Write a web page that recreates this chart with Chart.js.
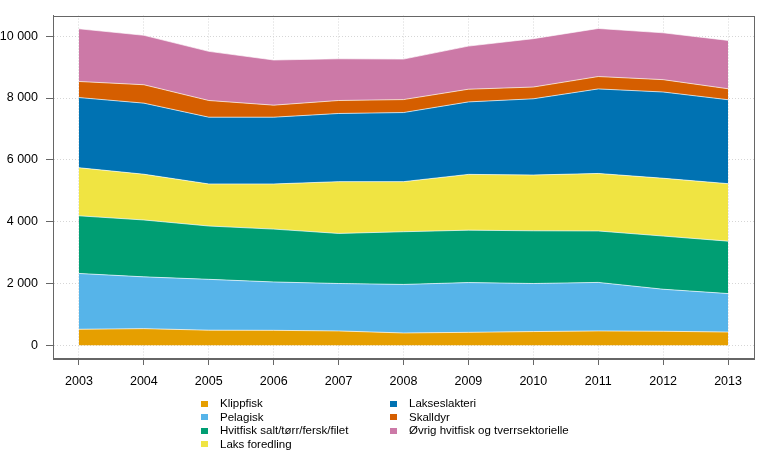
<!DOCTYPE html>
<html>
<head>
<meta charset="utf-8">
<script src="https://cdn.jsdelivr.net/npm/chart.js@4/dist/chart.umd.min.js"></script>
<style>
  html, body { margin: 0; padding: 0; background: #fff; }
  #wrap { position: relative; width: 762px; height: 457px; }
  #c { position: absolute; left: 0; top: 0; }
  #legend {
    position: absolute; left: 200px; top: 397px;
    display: grid; grid-template-columns: 189px 240px;
    grid-template-rows: repeat(4, 13.5px); grid-auto-flow: column;
    font-family: 'Liberation Sans', Arial, sans-serif; font-size: 11.5px; color: #000;
  }
  .item { display: flex; align-items: center; white-space: nowrap; line-height: 13.5px; }
  .sw { width: 7px; height: 6px; margin-right: 12px; margin-left: 1px; flex: none; }
</style>
</head>
<body>
<div id="wrap">
  <canvas id="c" width="762" height="457"></canvas>
  <div id="legend"></div>
</div>
<script>
// ---- data ----
const years = [2003, 2004, 2005, 2006, 2007, 2008, 2009, 2010, 2011, 2012, 2013];
const seriesNames = ["Klippfisk", "Pelagisk", "Hvitfisk salt/tørr/fersk/filet", "Laks foredling",
                     "Lakseslakteri", "Skalldyr", "Øvrig hvitfisk og tverrsektorielle"];
const klippfisk     = [520, 540, 490, 485, 465, 400, 420, 445, 465, 455, 430];
const pelagisk      = [1805, 1675, 1645, 1565, 1535, 1570, 1610, 1555, 1570, 1360, 1245];
const hvitfisk      = [1865, 1840, 1725, 1710, 1620, 1705, 1695, 1705, 1665, 1720, 1695];
const laksForedling = [1555, 1480, 1360, 1460, 1675, 1620, 1805, 1805, 1860, 1870, 1860];
const lakseslakteri = [2270, 2300, 2160, 2160, 2205, 2235, 2345, 2465, 2735, 2790, 2715];
const skalldyr      = [520, 595, 540, 390, 420, 420, 410, 380, 400, 400, 355];
const ovrig         = [1705, 1600, 1590, 1460, 1350, 1310, 1395, 1565, 1555, 1515, 1565];
const yTicks = [0, 2000, 4000, 6000, 8000, 10000];

const seriesValues = [klippfisk, pelagisk, hvitfisk, laksForedling, lakseslakteri, skalldyr, ovrig];
const colors = ["#E69F00", "#56B4E9", "#009E73", "#F0E442", "#0072B2", "#D55E00", "#CC79A7"];

Chart.defaults.font.family = "'Liberation Sans', Arial, sans-serif";
Chart.defaults.font.size = 12.5;
Chart.defaults.color = "#000";

const datasets = seriesValues.map((vals, i) => ({
  label: seriesNames[i],
  data: vals.map((v, j) => ({ x: years[j], y: v })),
  backgroundColor: colors[i],
  borderColor: "rgba(255,255,255,0.65)",
  borderWidth: 1,
  pointRadius: 0,
  pointHoverRadius: 0,
  tension: 0,
  fill: i === 0 ? "origin" : "-1"
}));

const boxPlugin = {
  id: "box",
  afterDraw(chart) {
    const { ctx, chartArea: a } = chart;
    ctx.save();
    ctx.strokeStyle = "#666";
    ctx.lineWidth = 1;
    ctx.strokeRect(Math.round(a.left) + 0.5, Math.round(a.top) + 0.5,
                   Math.round(a.right - a.left), Math.round(a.bottom - a.top));
    ctx.restore();
  }
};

const fmt = v => String(v).replace(/\B(?=(\d{3})+(?!\d))/g, "\u00a0");

const chart = new Chart(document.getElementById("c"), {
  type: "line",
  data: { datasets },
  options: {
    responsive: false,
    animation: false,
    events: [],
    layout: { padding: { left: 0, top: 15, right: 8, bottom: 69 } },
    plugins: { legend: { display: false }, tooltip: { enabled: false } },
    scales: {
      x: {
        type: "linear",
        min: 2002.6, max: 2013.4,
        afterBuildTicks: s => { s.ticks = years.map(y => ({ value: y })); },
        afterFit: s => { s.height = 30; },
        ticks: { callback: v => String(v), padding: 9, maxRotation: 0, autoSkip: false, color: "#000" },
        grid: { color: "#d6d6d6", lineWidth: 1, tickLength: 7, tickColor: "#666", tickBorderDash: [] },
        border: { display: true, color: "#666", dash: [1, 2] }
      },
      y: {
        type: "linear",
        stacked: true,
        min: -410, max: 10670,
        afterBuildTicks: s => { s.ticks = yTicks.map(v => ({ value: v })); },
        afterFit: s => { s.width = 53; },
        ticks: { callback: v => fmt(v), padding: 8, color: "#000" },
        grid: { color: "#d6d6d6", lineWidth: 1, tickLength: 7, tickColor: "#666", tickBorderDash: [] },
        border: { display: true, color: "#666", dash: [1, 2] }
      }
    }
  },
  plugins: [boxPlugin]
});

// HTML legend built from the datasets
const leg = document.getElementById("legend");
chart.data.datasets.forEach(ds => {
  const it = document.createElement("div");
  it.className = "item";
  const sw = document.createElement("span");
  sw.className = "sw";
  sw.style.background = ds.backgroundColor;
  const tx = document.createElement("span");
  tx.textContent = ds.label;
  it.appendChild(sw); it.appendChild(tx);
  leg.appendChild(it);
});
</script>
</body>
</html>
